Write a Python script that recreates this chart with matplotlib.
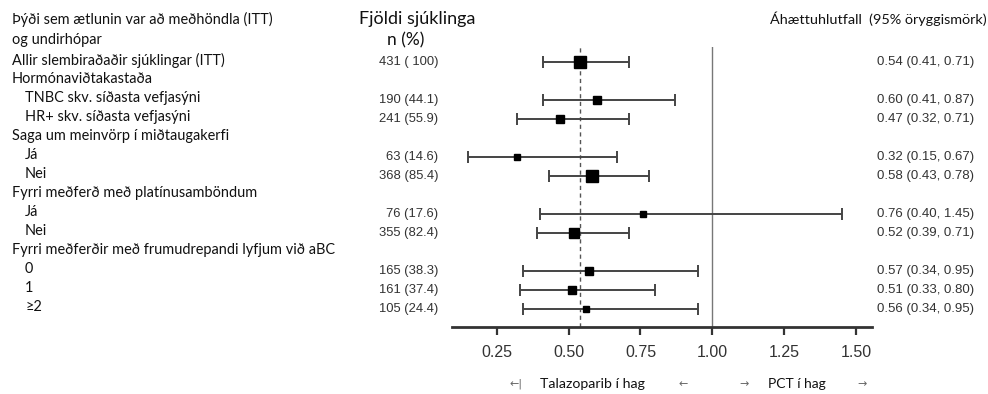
import matplotlib
matplotlib.use("Agg")
import matplotlib.pyplot as plt
from matplotlib.transforms import blended_transform_factory
import numpy as np

# ---- data ----
row_labels = ["Allir slembiraðaðir sjúklingar (ITT)", "Hormónaviðtakastaða",
              "TNBC skv. síðasta vefjasýni", "HR+ skv. síðasta vefjasýni",
              "Saga um meinvörp í miðtaugakerfi", "Já", "Nei",
              "Fyrri meðferð með platínusamböndum", "Já", "Nei",
              "Fyrri meðferðir með frumudrepandi lyfjum við aBC", "0", "1", "≥2"]
row_indent = [0, 0, 1, 1, 0, 1, 1, 0, 1, 1, 0, 1, 1, 1]
est_rows = [0, 2, 3, 5, 6, 8, 9, 11, 12, 13]
n_text = ["431 ( 100)", "190 (44.1)", "241 (55.9)", "63 (14.6)", "368 (85.4)",
          "76 (17.6)", "355 (82.4)", "165 (38.3)", "161 (37.4)", "105 (24.4)"]
n_pat = [431, 190, 241, 63, 368, 76, 355, 165, 161, 105]
hr = [0.54, 0.60, 0.47, 0.32, 0.58, 0.76, 0.52, 0.57, 0.51, 0.56]
lo = [0.41, 0.41, 0.32, 0.15, 0.43, 0.40, 0.39, 0.34, 0.33, 0.34]
hi = [0.71, 0.87, 0.71, 0.67, 0.78, 1.45, 0.71, 0.95, 0.80, 0.95]
overall_hr = 0.54
xticks = [0.25, 0.50, 0.75, 1.00, 1.25, 1.50]

W, H = 988, 394
fig = plt.figure(figsize=(W / 100, H / 100), dpi=100)

ax_left, ax_right = 452, 872
ax_top, ax_bot = 47, 327
ax = fig.add_axes([ax_left / W, 1 - ax_bot / H, (ax_right - ax_left) / W, (ax_bot - ax_top) / H])
ax.set_xlim(0.094, 1.556)
row0, step = 62, 19.0
ax.set_ylim((ax_bot - row0) / step, (ax_top - row0) / step)

for s in ["left", "right", "top"]:
    ax.spines[s].set_visible(False)
ax.spines["bottom"].set_linewidth(2.0)
ax.spines["bottom"].set_color("#333333")
ax.set_yticks([])
ax.set_xticks(xticks)
ax.set_xticklabels([f"{v:.2f}" for v in xticks])
ax.tick_params(axis="x", direction="out", length=6, width=1.6, color="#333333",
               labelsize=11.5, labelcolor="#333333", pad=7)
for lab in ax.get_xticklabels():
    lab.set_fontfamily("Liberation Sans")

ax.axvline(1.0, color="#777777", lw=1.0)
ax.axvline(overall_hr, color="#555555", lw=1.0, ls=(0, (3, 2.5)))

ys = np.array(est_rows, dtype=float)
ax.errorbar(hr, ys, xerr=[np.array(hr) - np.array(lo), np.array(hi) - np.array(hr)],
            fmt="none", ecolor="#444444", elinewidth=1.4, capsize=4.3, capthick=1.4, zorder=2)
sizes_pt = (4.4 + 0.0185 * np.array(n_pat)) * 0.72
for x, y, s in zip(hr, ys, sizes_pt):
    ax.plot([x], [y], marker="s", ms=s, color="black", zorder=3, ls="none")

# ---- texts ----
tf = blended_transform_factory(fig.transFigure, ax.transData)
lab_font = ["Lato", "DejaVu Sans"]
for i, (t, ind) in enumerate(zip(row_labels, row_indent)):
    x = (12 + 13 * ind) / W
    fig.text(x, i - 0.1, t, transform=tf, ha="left", va="center", fontsize=10.45,
             color="#111111", family=lab_font)

fig.text(12 / W, 1 - 19 / H, "Þýði sem ætlunin var að meðhöndla (ITT)", ha="left", va="center",
         fontsize=10.45, color="#111111", family=lab_font)
fig.text(12 / W, 1 - 40 / H, "og undirhópar", ha="left", va="center",
         fontsize=10.45, color="#111111", family=lab_font)
fig.text(417 / W, 1 - 19 / H, "Fjöldi sjúklinga", ha="center", va="center",
         fontsize=13, color="#111111", family=lab_font)
fig.text(406 / W, 1 - 40 / H, "n (%)", ha="center", va="center",
         fontsize=12.5, color="#111111", family=lab_font)
fig.text(770 / W, 1 - 19 / H, "Áhættuhlutfall  (95% öryggismörk)", ha="left", va="center",
         fontsize=10.4, color="#111111", family=lab_font)

for y, t in zip(ys, n_text):
    fig.text(438 / W, y, t, transform=tf, ha="right", va="center", fontsize=9.4,
             color="#333333", family="Liberation Sans")
for y, h, l, u in zip(ys, hr, lo, hi):
    fig.text(877 / W, y, f"{h:.2f} ({l:.2f}, {u:.2f})", transform=tf, ha="left", va="center",
             fontsize=9.5, color="#333333", family="Liberation Sans")

yb = 1 - 384 / H
fig.text(516 / W, yb, "←|", ha="center", va="center", fontsize=8, color="#666666", family="DejaVu Sans")
fig.text(592 / W, yb, "Talazoparib í hag", ha="center", va="center", fontsize=10.2,
         color="#111111", family=lab_font)
fig.text(683 / W, yb, "←", ha="center", va="center", fontsize=8, color="#666666", family="DejaVu Sans")
fig.text(744 / W, yb, "→", ha="center", va="center", fontsize=8, color="#666666", family="DejaVu Sans")
fig.text(797 / W, yb, "PCT í hag", ha="center", va="center", fontsize=10,
         color="#111111", family=lab_font)
fig.text(862 / W, yb, "→", ha="center", va="center", fontsize=8, color="#666666", family="DejaVu Sans")

fig.savefig("out.png", dpi=100, facecolor="white")
